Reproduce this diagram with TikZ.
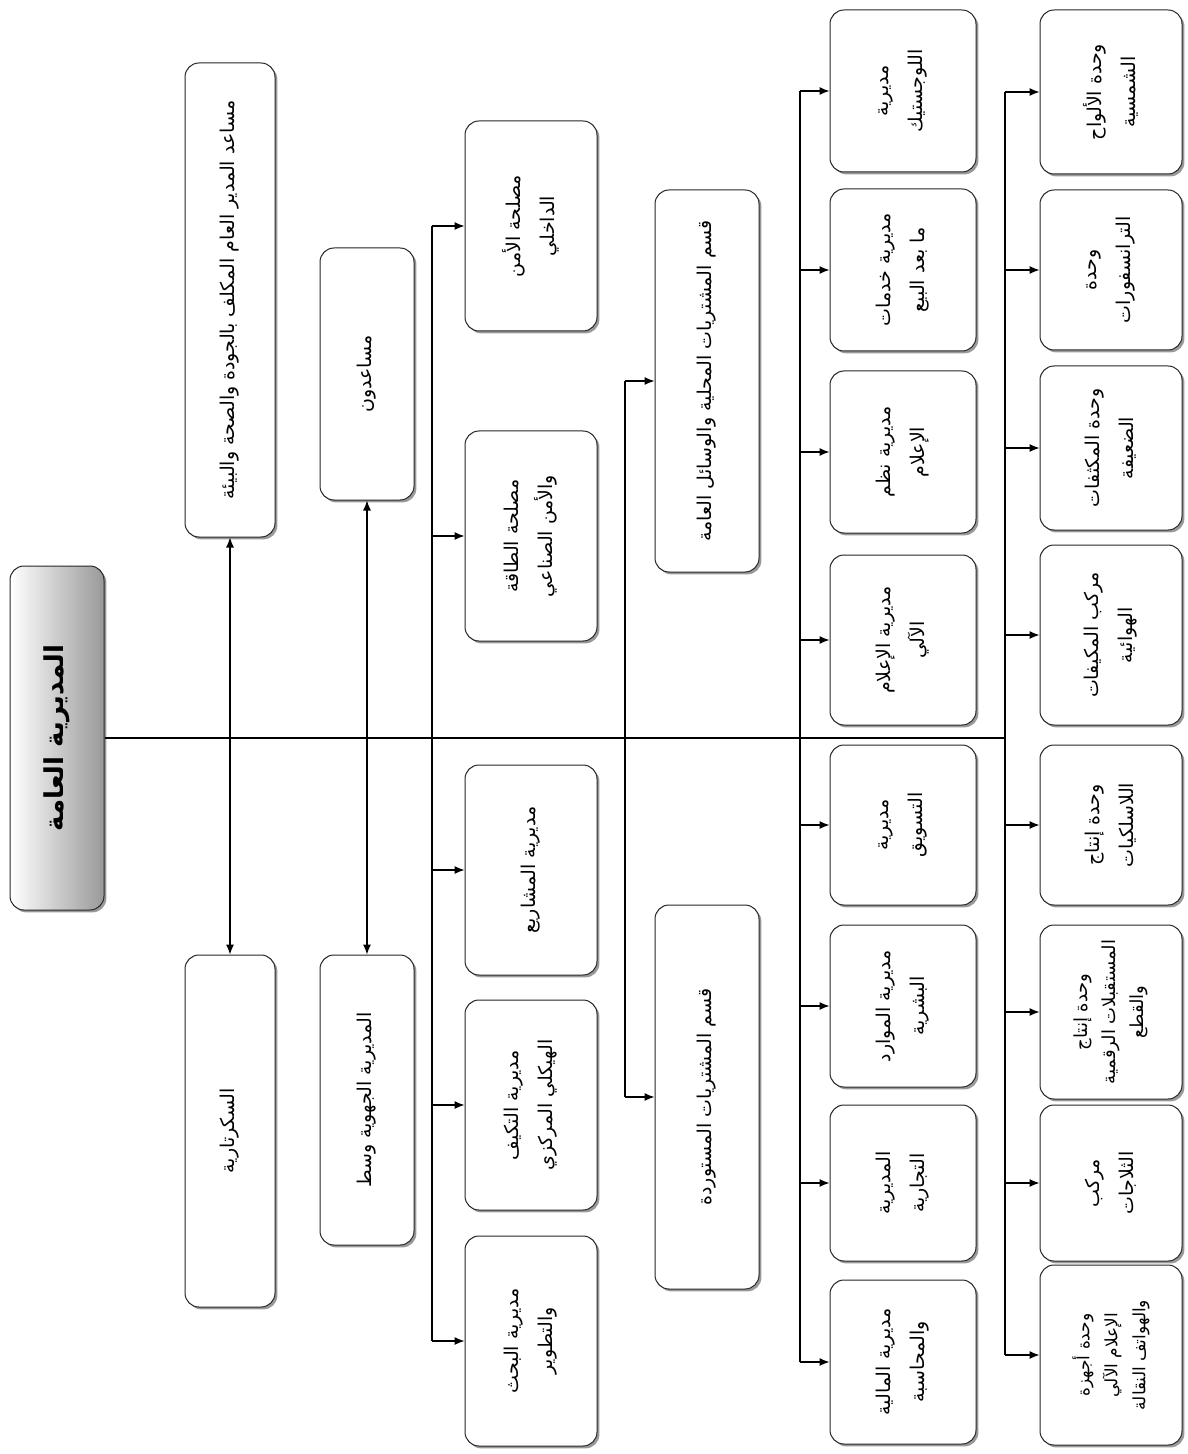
\documentclass[tikz,border=0pt]{standalone}
\usepackage{fontspec}
\newfontfamily\arabicfont[Script=Arabic]{DejaVu Sans}
\TeXXeTstate=1
\usetikzlibrary{arrows.meta,shadows}
\newcommand{\rl}[1]{\beginR #1\endR}

\begin{document}
\begin{tikzpicture}[x=0.5pt,y=-0.5pt,>={Latex[length=5pt,width=4pt]},
  unit/.style={draw=black!85,line width=0.5pt,rounded corners=7pt,fill=white,rotate=90,
    align=center,inner sep=2pt,font=\arabicfont\fontsize{9.5}{17}\selectfont,
    drop shadow={shadow xshift=1.2pt,shadow yshift=-1.2pt,fill=black!40,opacity=1}},
  link/.style={line width=0.6pt,black}]
  \useasboundingbox (0,0) rectangle (1187,1454);

  % head
  \node[unit,minimum width=172pt,minimum height=47pt,left color=white,right color=black!40,
    font=\arabicfont\bfseries\fontsize{13}{16}\selectfont] (dg) at (57,738) {\rl{المديرية العامة}};

  % staff
  \node[unit,minimum width=237pt,minimum height=45pt] (qhse) at (230,300)
    {\rl{مساعد المدير العام المكلف بالجودة والصحة والبيئة}};
  \node[unit,minimum width=176pt,minimum height=45pt] (secr) at (230,1131) {\rl{السكرتارية}};
  \node[unit,minimum width=126pt,minimum height=47pt] (asst) at (367,374) {\rl{مساعدون}};
  \node[unit,minimum width=145pt,minimum height=47pt] (reg) at (367,1100) {\rl{المديرية الجهوية وسط}};

  % directorates
  \node[unit,minimum width=105pt,minimum height=66pt] (c1) at (531,226) {\rl{مصلحة الأمن}\\\rl{الداخلي}};
  \node[unit,minimum width=105pt,minimum height=66pt] (c2) at (531,536) {\rl{مصلحة الطاقة}\\\rl{والأمن الصناعي}};
  \node[unit,minimum width=105pt,minimum height=66pt] (c3) at (531,870) {\rl{مديرية المشاريع}};
  \node[unit,minimum width=105pt,minimum height=66pt] (c4) at (531,1105) {\rl{مديرية التكيف}\\\rl{الهيكلي المركزي}};
  \node[unit,minimum width=105pt,minimum height=66pt] (c5) at (531,1341) {\rl{مديرية البحث}\\\rl{والتطوير}};

  % purchasing
  \node[unit,minimum width=191pt,minimum height=52pt] (d1) at (707,381) {\rl{قسم المشتريات المحلية والوسائل العامة}};
  \node[unit,minimum width=192pt,minimum height=52pt] (d2) at (707,1097) {\rl{قسم المشتريات المستوردة}};

  % central directorates
  \node[unit,minimum width=81pt,minimum height=73pt] (e1) at (903,91) {\rl{مديرية}\\\rl{اللوجستيك}};
  \node[unit,minimum width=81pt,minimum height=73pt] (e2) at (903,270) {\rl{مديرية خدمات}\\\rl{ما بعد البيع}};
  \node[unit,minimum width=81pt,minimum height=73pt] (e3) at (903,452) {\rl{مديرية نظم}\\\rl{الإعلام}};
  \node[unit,minimum width=85pt,minimum height=73pt] (e4) at (903,640) {\rl{مديرية الإعلام}\\\rl{الآلي}};
  \node[unit,minimum width=80pt,minimum height=73pt] (e5) at (903,825) {\rl{مديرية}\\\rl{التسويق}};
  \node[unit,minimum width=81pt,minimum height=73pt] (e6) at (903,1006) {\rl{مديرية الموارد}\\\rl{البشرية}};
  \node[unit,minimum width=78pt,minimum height=73pt] (e7) at (903,1183) {\rl{المديرية}\\\rl{التجارية}};
  \node[unit,minimum width=82pt,minimum height=73pt] (e8) at (903,1362) {\rl{مديرية المالية}\\\rl{والمحاسبة}};

  % units
  \node[unit,minimum width=82pt,minimum height=71pt] (f1) at (1111,92) {\rl{وحدة الألواح}\\\rl{الشمسية}};
  \node[unit,minimum width=80pt,minimum height=71pt] (f2) at (1111,270) {\rl{وحدة}\\\rl{الترانسفورات}};
  \node[unit,minimum width=82pt,minimum height=71pt] (f3) at (1111,448) {\rl{وحدة المكثفات}\\\rl{الضعيفة}};
  \node[unit,minimum width=90pt,minimum height=71pt] (f4) at (1111,635) {\rl{مركب المكيفات}\\\rl{الهوائية}};
  \node[unit,minimum width=80pt,minimum height=71pt] (f5) at (1111,825) {\rl{وحدة إنتاج}\\\rl{اللاسلكيات}};
  \node[unit,minimum width=87pt,minimum height=71pt,font=\arabicfont\fontsize{9}{14}\selectfont] (f6) at (1111,1012)
    {\rl{وحدة إنتاج}\\\rl{المستقبلات الرقمية}\\\rl{والقطع}};
  \node[unit,minimum width=78pt,minimum height=71pt] (f7) at (1111,1183) {\rl{مركب}\\\rl{الثلاجات}};
  \node[unit,minimum width=90pt,minimum height=71pt,font=\arabicfont\fontsize{8.5}{14}\selectfont] (f8) at (1111,1355)
    {\rl{وحدة أجهزة}\\\rl{الإعلام الآلي}\\\rl{والهواتف النقالة}};

  % spines
  \coordinate (sC) at (432,0);
  \coordinate (sD) at (625,0);
  \coordinate (sE) at (800,0);
  \coordinate (sF) at (1005,0);

  \draw[link] (dg.south) -- (sF |- dg.south);
  \draw[link,<->] (qhse.west) -- (secr.east);
  \draw[link,<->] (asst.west) -- (reg.east);

  \draw[link] (sC |- c1.north) -- (sC |- c5.north);
  \foreach \b in {c1,c2,c3,c4,c5}
    \draw[link,->] (sC |- \b.north) -- (\b.north);

  \draw[link] (sD |- d1.north) -- (sD |- d2.north);
  \foreach \b in {d1,d2}
    \draw[link,->] (sD |- \b.north) -- (\b.north);

  \draw[link] (sE |- e1.north) -- (sE |- e8.north);
  \foreach \b in {e1,e2,e3,e4,e5,e6,e7,e8}
    \draw[link,->] (sE |- \b.north) -- (\b.north);

  \draw[link] (sF |- f1.north) -- (sF |- f8.north);
  \foreach \b in {f1,f2,f3,f4,f5,f6,f7,f8}
    \draw[link,->] (sF |- \b.north) -- (\b.north);
\end{tikzpicture}
\end{document}
